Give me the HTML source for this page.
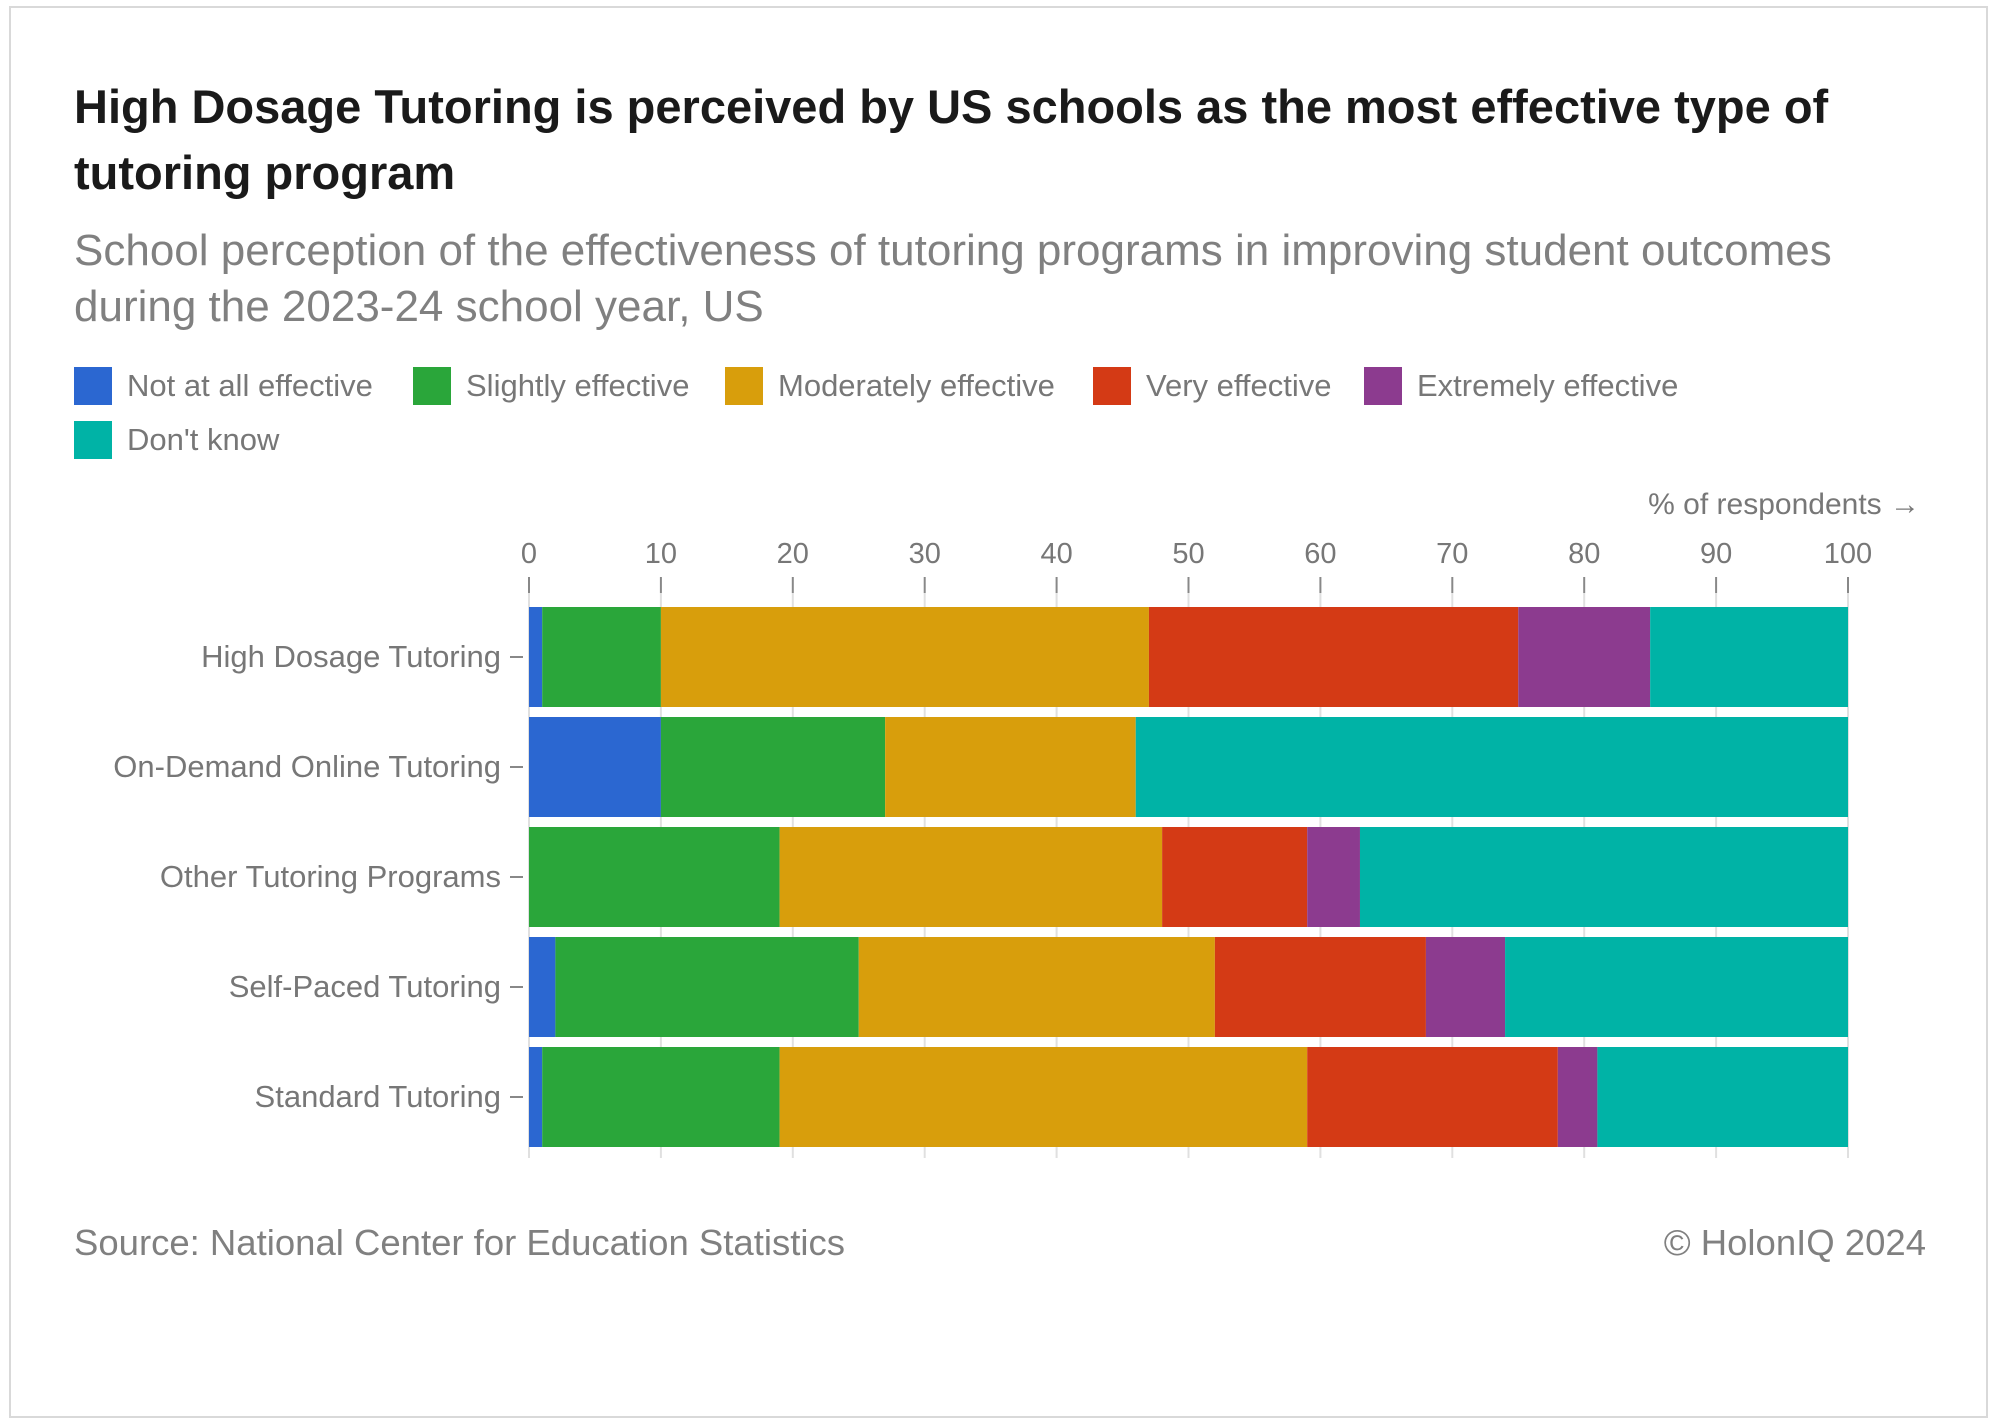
<!DOCTYPE html>
<html><head><meta charset="utf-8"><style>
body{margin:0;width:2000px;height:1428px;background:#fff;font-family:"Liberation Sans",sans-serif;position:relative;overflow:hidden}
.frame{position:absolute;left:9px;top:6px;width:1979px;height:1412px;border:2px solid #d9d9d9;box-sizing:border-box}
.t{position:absolute;white-space:nowrap}
</style></head><body>
<div class="frame"></div>
<div class="t" style="left:74px;top:74px;font-size:47px;font-weight:bold;color:#1a1a1a;line-height:66px">High Dosage Tutoring is perceived by US schools as the most effective type of<br>tutoring program</div>
<div class="t" style="left:74px;top:223px;font-size:44px;color:#808080;line-height:56px">School perception of the effectiveness of tutoring programs in improving student outcomes<br>during the 2023-24 school year, US</div>
<svg id="chart" width="2000" height="1428" style="position:absolute;left:0;top:0"></svg>
<script>
const categories=["High Dosage Tutoring","On-Demand Online Tutoring","Other Tutoring Programs","Self-Paced Tutoring","Standard Tutoring"];
const seriesNames=["Not at all effective","Slightly effective","Moderately effective","Very effective","Extremely effective","Don't know"];
const colors=["#2b67d1","#2aa63a","#d89e0c","#d43a15","#8c3b8f","#00b3a6"];
const notAtAll=[1,10,0,2,1];
const slightly=[9,17,19,23,18];
const moderately=[37,19,29,27,40];
const very=[28,0,11,16,19];
const extremely=[10,0,4,6,3];
const dontKnow=[15,54,37,26,19];
const ticks=[0,10,20,30,40,50,60,70,80,90,100];
const series=[notAtAll,slightly,moderately,very,extremely,dontKnow];
const svg=document.getElementById('chart');const NS="http://www.w3.org/2000/svg";
function el(t,a,p){const e=document.createElementNS(NS,t);for(const k in a)e.setAttribute(k,a[k]);(p||svg).appendChild(e);return e;}
const x0=529,x1=1848;const xs=v=>x0+(x1-x0)*v/100;
const yTop=607,pitch=110,bh=100;
const legendPos=[[74,386],[413,386],[725,386],[1093,386],[1364,386],[74,440]];
seriesNames.forEach((n,i)=>{
 const g=el('g',{});
 
 
 const [lx,ly]=legendPos[i];
 el('rect',{x:lx,y:ly-19,width:38,height:38,fill:colors[i]},g);
 const t=el('text',{x:lx+53,y:ly+10,'font-size':31,fill:'#777'},g);t.textContent=n;
});
const at=el('text',{x:1920,y:514,'font-size':30,fill:'#777','text-anchor':'end'});

at.textContent="% of respondents →";
ticks.forEach(v=>{
 const x=xs(v);
 const gl=el('line',{x1:x,x2:x,y1:593,y2:1158,stroke:'#e0e0e0','stroke-width':2});
 
 el('line',{x1:x,x2:x,y1:577,y2:593,stroke:'#888','stroke-width':2});
 const t=el('text',{x:x,y:563,'font-size':29,fill:'#777','text-anchor':'middle'});
 
 t.textContent=v;
});
categories.forEach((c,ci)=>{
 const y=yTop+ci*pitch;let acc=0;
 series.forEach((s,si)=>{
  const v=s[ci];
  if(v>0){const r=el('rect',{x:xs(acc),y:y,width:xs(acc+v)-xs(acc),height:bh,fill:colors[si]});
  }
  acc+=v;
 });
 el('line',{x1:510,x2:523,y1:y+bh/2,y2:y+bh/2,stroke:'#888','stroke-width':2});
 const t=el('text',{x:501,y:y+bh/2+10,'font-size':31,fill:'#777','text-anchor':'end'});
 
 t.textContent=c;
});
</script>
<div class="t" style="left:74px;top:1222px;font-size:36.5px;color:#808080">Source: National Center for Education Statistics</div>
<div class="t" style="right:74px;top:1222px;font-size:36.5px;color:#808080">© HolonIQ 2024</div>
</body></html>
